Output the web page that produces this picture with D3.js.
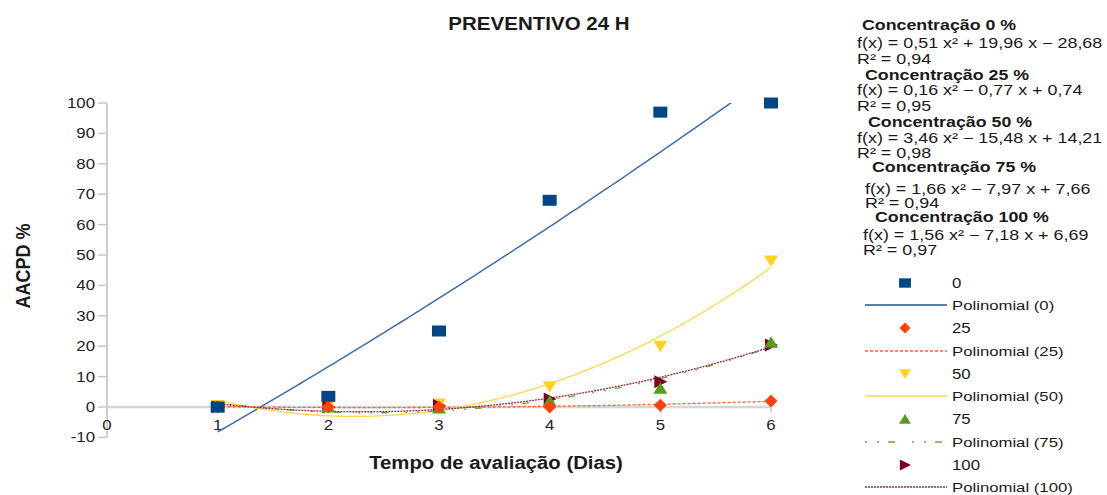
<!DOCTYPE html>
<html>
<head>
<meta charset="utf-8">
<script src="https://cdn.jsdelivr.net/npm/d3@7"></script>
<style>
  html, body { margin: 0; padding: 0; background: #fff; }
  svg { display: block; font-family: "Liberation Sans", Arial, sans-serif; }
</style>
</head>
<body>
<svg id="chart" width="1107" height="495"></svg>
<script>
// Evaluation days and AACPD (%) per concentration
const days = [1, 2, 3, 4, 5, 6];
const conc0   = [0, 3.5, 25, 68, 97, 100];
const conc25  = [0, 0, 0, 0, 0.6, 2];
const conc50  = [0.5, 0.5, 1, 6.7, 20, 48];
const conc75  = [0, 0, -0.3, 2, 6.2, 21.3];
const conc100 = [0, 0, 0.5, 2.6, 8.3, 20.4];

// Polynomial trend coefficients [a, b, c] for a·x² + b·x + c
const fit0   = [0.51, 19.96, -28.68];
const fit25  = [0.16, -0.77, 0.74];
const fit50  = [3.46, -15.48, 14.21];
const fit75  = [1.66, -7.97, 7.66];
const fit100 = [1.56, -7.18, 6.69];

const seriesNames = ["0", "25", "50", "75", "100"];
const equationTexts = [
  "f(x) = 0,51 x² + 19,96 x − 28,68",
  "f(x) = 0,16 x² − 0,77 x + 0,74",
  "f(x) = 3,46 x² − 15,48 x + 14,21",
  "f(x) = 1,66 x² − 7,97 x + 7,66",
  "f(x) = 1,56 x² − 7,18 x + 6,69"
];
const rSquared = ["0,94", "0,95", "0,98", "0,94", "0,97"];
const xTicks = [0, 1, 2, 3, 4, 5, 6];
const yTicks = [-10, 0, 10, 20, 30, 40, 50, 60, 70, 80, 90, 100];

const title = "PREVENTIVO 24 H";
const xTitle = "Tempo de avaliação (Dias)";
const yTitle = "AACPD %";

const series = [
  { name: "0",   values: conc0,   fit: fit0,   color: "#004586", line: "#3c6ea6", dash: null,            shape: "square" },
  { name: "25",  values: conc25,  fit: fit25,  color: "#ff420e", line: "#ff5a2e", dash: "3,2",           shape: "diamond" },
  { name: "50",  values: conc50,  fit: fit50,  color: "#ffd320", line: "#ffd84a", dash: null,            shape: "down" },
  { name: "75",  values: conc75,  fit: fit75,  color: "#579d1c", line: "#6aab32", dash: "2,10,2,9,7,17", shape: "up" },
  { name: "100", values: conc100, fit: fit100, color: "#7e0021", line: "#8e2a45", dash: "2,1",           shape: "right" }
];

const svg = d3.select("#chart");
const ink = "#1a1a1a";

const x = d3.scaleLinear().domain([0, 6]).range([107, 771]);
const y = d3.scaleLinear().domain([-10, 100]).range([437.4, 103]);

// Text helper: horizontally stretched label
function label(parent, px, py, text, o = {}) {
  return parent.append("text")
    .attr("transform", `translate(${px},${py}) scale(${o.sx || 1},1)`)
    .attr("dy", "0.35em")
    .attr("text-anchor", o.anchor || "start")
    .attr("font-size", o.size || 14)
    .attr("font-weight", o.bold ? "bold" : "normal")
    .attr("fill", o.fill || ink)
    .text(text);
}

// Marker shapes
function markerPath(shape) {
  switch (shape) {
    case "square":  return "M-7,-5.5H7V5.5H-7Z";
    case "diamond": return "M0,-6.5L6.5,0L0,6.5L-6.5,0Z";
    case "down":    return "M-7,-5.5H7L0,6Z";
    case "up":      return "M0,-6L7,5.5H-7Z";
    case "right":   return "M-6,-6.5L7,0L-6,6.5Z";
  }
}

// Title
label(svg, 539, 24, title, { size: 18, bold: true, sx: 1.14, anchor: "middle" });

// Axes
const axisG = svg.append("g");
axisG.append("line")
  .attr("x1", x(0)).attr("x2", x(0))
  .attr("y1", y(100)).attr("y2", y(-10))
  .attr("stroke", "#cfcfcf").attr("stroke-width", 2);
axisG.selectAll(".ytick").data(yTicks).join("line")
  .attr("x1", x(0) - 9).attr("x2", x(0))
  .attr("y1", d => y(d)).attr("y2", d => y(d))
  .attr("stroke", "#c8c8c8").attr("stroke-width", 1.5);
yTicks.forEach(v => label(axisG, 95, y(v), String(v), { anchor: "end", sx: 1.2, size: 14, fill: "#222" }));

axisG.append("line")
  .attr("x1", x(0)).attr("x2", x(6))
  .attr("y1", y(0)).attr("y2", y(0))
  .attr("stroke", "#d6d6d6").attr("stroke-width", 2.5);
axisG.selectAll(".xtick").data(xTicks.slice(1)).join("line")
  .attr("x1", d => x(d)).attr("x2", d => x(d))
  .attr("y1", y(0)).attr("y2", y(0) + 6)
  .attr("stroke", "#c8c8c8").attr("stroke-width", 1.5);
xTicks.forEach(v => label(axisG, x(v), 425, String(v), { anchor: "middle", sx: 1.2, size: 14, fill: "#222" }));

label(svg, 496, 463, xTitle, { size: 18, bold: true, sx: 1.13, anchor: "middle" });
svg.append("text")
  .attr("transform", "translate(23,266) rotate(-90) scale(1,1.14)")
  .attr("dy", "0.35em")
  .attr("text-anchor", "middle")
  .attr("font-size", 18).attr("font-weight", "bold").attr("fill", ink)
  .text(yTitle);

// Plot clip
svg.append("clipPath").attr("id", "plotClip")
  .append("rect").attr("x", x(0)).attr("y", y(100)).attr("width", x(6) - x(0) + 10).attr("height", y(-10) - y(100));

// Trend curves from the stated polynomials
const plotG = svg.append("g").attr("clip-path", "url(#plotClip)");
const curve = d3.line().x(d => x(d[0])).y(d => y(d[1]));
const xs = d3.range(0, 101).map(i => days[0] + (days[days.length - 1] - days[0]) * i / 100);
series.forEach(s => {
  const [a, b, c] = s.fit;
  plotG.append("path")
    .attr("d", curve(xs.map(t => [t, a * t * t + b * t + c])))
    .attr("fill", "none")
    .attr("stroke", s.line)
    .attr("stroke-width", s.name === "0" ? 1.5 : 1.3)
    .attr("stroke-dasharray", s.dash);
});

// Markers
const drawOrder = ["50", "100", "75", "25", "0"];
drawOrder.forEach(n => {
  const s = series.find(d => d.name === n);
  svg.append("g").selectAll("path").data(days.map((d, i) => [d, s.values[i]])).join("path")
    .attr("transform", d => `translate(${x(d[0])},${y(d[1])})`)
    .attr("d", markerPath(s.shape))
    .attr("fill", s.color);
});

// Trend equations
const eqG = svg.append("g");
const eqRows = [
  { h: [862, 25],  e: [857, 43],  r: [857, 59] },
  { h: [865, 75],  e: [857, 90],  r: [857, 106] },
  { h: [868, 122], e: [857, 138], r: [857, 153] },
  { h: [872, 167], e: [865, 189], r: [865, 203] },
  { h: [875, 217], e: [863, 235], r: [863, 250] }
];
seriesNames.forEach((n, i) => {
  const p = eqRows[i];
  label(eqG, p.h[0], p.h[1], `Concentração ${n} %`, { bold: true, size: 14, sx: 1.27 });
  label(eqG, p.e[0], p.e[1], equationTexts[i], { size: 14, sx: 1.28 });
  label(eqG, p.r[0], p.r[1], `R² = ${rSquared[i]}`, { size: 14, sx: 1.28 });
});

// Legend
const legG = svg.append("g");
const legendY = [283, 305, 328, 351, 374, 396, 419, 442, 465, 487];
series.forEach((s, i) => {
  const ym = legendY[2 * i], yl = legendY[2 * i + 1];
  legG.append("path")
    .attr("transform", `translate(905,${ym}) scale(0.85)`)
    .attr("d", markerPath(s.shape))
    .attr("fill", s.color);
  label(legG, 952, ym, s.name, { size: 14, sx: 1.2 });
  legG.append("line")
    .attr("x1", 865).attr("x2", 947).attr("y1", yl).attr("y2", yl)
    .attr("stroke", s.name === "0" ? "#1f5592" : s.line)
    .attr("stroke-width", 1.3)
    .attr("stroke-dasharray", s.dash);
  label(legG, 952, yl, `Polinomial (${s.name})`, { size: 13.5, sx: 1.24 });
});
</script>
</body>
</html>
